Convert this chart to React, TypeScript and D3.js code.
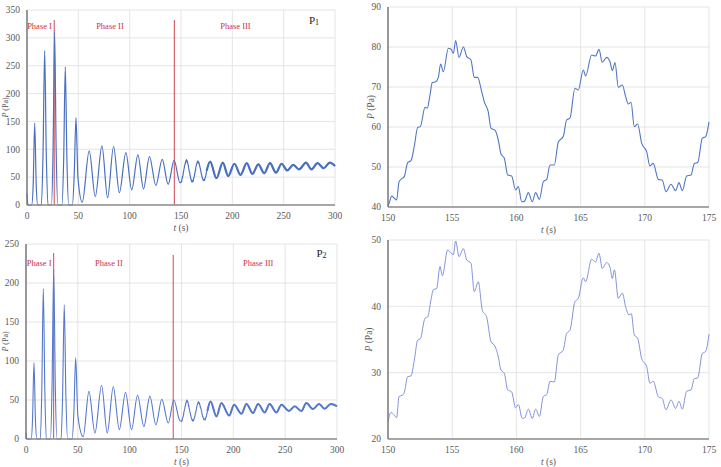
import React from "react";
import * as d3 from "d3";

// ---------- DATA ----------
// P1 full record: peaks / troughs (t in s, p in Pa)
const p1Wave: [number, number][] = [
  [0, 20], [1, 0], [4.5, 0], [6, 35], [7.5, 147], [9, 35], [10.5, 0],
  [14, 0], [15.6, 90], [17.2, 277], [18.8, 90], [20.4, 0],
  [23.8, 0], [25.4, 100], [26.9, 310], [28.4, 100], [30, 0],
  [34, 0], [35.7, 80], [37.3, 248], [38.9, 80], [40.6, 0],
  [44.2, 0], [46, 55], [47.7, 157], [49.6, 50], [53.8, 5],
  [60.6, 97], [66.5, 15], [73, 106], [78.5, 13], [84.3, 105], [90, 22],
  [96.3, 94], [102, 27], [108, 90], [113.5, 29], [119.3, 87], [125.5, 35],
  [131.7, 82], [137.5, 37], [143.3, 80], [149, 40], [155, 81], [160.5, 42],
  [166.5, 79], [172, 45], [178.4, 78], [184.5, 48], [190.7, 76], [196, 52],
  [202, 74], [208, 54], [214, 75], [219.5, 56], [225.4, 73], [231, 57],
  [236.7, 75], [242.5, 58], [248, 74], [253.5, 62], [259.4, 72], [265, 64],
  [271.8, 76], [277, 64], [283, 75], [289, 66], [295, 76], [300, 70],
];

// P1 detail 150–175 s (right-top panel)
const p1Detail: [number, number][] = [
  [150.0, 40.4], [150.08, 40.9], [150.29, 42.75], [150.49, 42.2], [150.67, 41.75],
  [150.86, 46.3], [151.12, 47.2], [151.27, 47.6], [151.53, 51.1], [151.79, 51.6],
  [152.05, 55.25], [152.31, 59.9], [152.52, 60.1], [152.88, 64.9], [153.06, 64.7],
  [153.27, 68], [153.45, 71.1], [153.71, 71.3], [153.92, 72.4], [154.1, 75.75],
  [154.31, 73.8], [154.7, 79.7], [154.9, 79.5], [155.09, 78.4], [155.27, 81.6],
  [155.53, 77.4], [155.87, 80], [156.13, 77.6], [156.46, 76.75], [156.72, 72.4],
  [156.98, 72.4], [157.3, 68.8], [157.5, 66.3], [157.81, 63.8], [158.02, 59.7],
  [158.33, 59.2], [158.59, 56.75], [158.8, 53.25], [159.06, 52.2], [159.32, 48],
  [159.63, 47.75], [159.94, 44.25], [160.15, 45.1], [160.41, 41.3], [160.62, 41.4],
  [160.93, 43.6], [161.24, 41.3], [161.5, 43.6], [161.79, 41.9], [162.1, 46.3],
  [162.36, 46.9], [162.62, 50.5], [162.95, 50.5], [163.27, 56.3], [163.65, 57.6],
  [163.91, 61.75], [164.17, 62.2], [164.56, 69.7], [164.82, 69.25], [165.21, 74.25],
  [165.39, 72.75], [165.86, 78], [166.17, 77.75], [166.43, 79.4], [166.69, 76.2],
  [167.03, 77.4], [167.29, 76.3], [167.47, 74.1], [167.68, 76.1], [167.94, 69.9],
  [168.25, 70.5], [168.51, 67.6], [168.72, 65.75], [168.93, 66.2], [169.18, 60.1],
  [169.44, 60.75], [169.76, 55.9], [170.15, 53.8], [170.4, 50.25], [170.66, 50.9],
  [171.05, 46.9], [171.36, 46.75], [171.65, 43.8], [172.04, 45.7], [172.4, 44.1],
  [172.66, 46.1], [172.92, 44.1], [173.26, 47.75], [173.6, 48], [173.86, 50.9],
  [174.12, 51.1], [174.48, 57.2], [174.74, 57.6], [175.0, 61.3],
];

// P2 full record (left-bottom panel)
const p2Wave: [number, number][] = [
  [0, 8], [1, 0], [5, 0], [6.3, 25], [7.7, 98], [9.1, 25], [10.5, 0],
  [13.8, 0], [15.2, 60], [16.7, 193], [18.2, 60], [19.6, 0],
  [23.6, 0], [25.1, 65], [26.7, 217], [28.3, 65], [29.8, 0],
  [33.8, 0], [35.3, 55], [36.9, 172], [38.5, 55], [40.1, 0],
  [44.5, 0], [46.2, 35], [47.9, 104], [50, 30], [55.2, 3],
  [60.7, 61], [66.5, 7.7], [72.9, 69], [78.4, 7.7], [84.2, 67], [90, 12],
  [96, 60], [101.8, 12], [107.6, 56], [113.7, 16], [119.5, 55], [125.3, 18],
  [131, 51], [137.2, 20.5], [142.6, 50], [148.4, 23.5], [155, 49.5], [160.6, 23.5],
  [166.4, 48], [172.3, 24.5], [178, 48], [183.7, 29], [188.5, 46], [196, 30],
  [200.7, 44], [207.8, 32.4], [212.6, 45], [219, 33.3], [223.9, 45], [230.3, 34],
  [235, 45], [241.5, 34], [246.4, 44], [253.7, 36], [259.2, 42], [265.6, 36],
  [270.4, 46], [276.9, 38.4], [282.7, 45], [288, 38.8], [294, 45], [300, 42],
];

// P2 detail 150–175 s (right-bottom panel)
const p2Detail: [number, number][] = [
  [150.0, 22.6], [150.23, 24], [150.49, 23.6], [150.67, 23.2], [150.86, 26.4],
  [151.12, 26.6], [151.27, 27], [151.53, 29.4], [151.79, 29.5], [152.05, 31.9],
  [152.31, 34.9], [152.52, 35.1], [152.88, 38.2], [153.09, 38.4], [153.35, 41],
  [153.53, 42.5], [153.79, 42.7], [154.05, 46], [154.23, 44.6], [154.65, 48.5],
  [154.91, 48], [155.09, 47.8], [155.27, 49.85], [155.53, 47.5], [155.87, 48.7],
  [156.13, 47], [156.46, 46.5], [156.72, 42.2], [157.03, 43.7], [157.35, 39.4],
  [157.68, 38.4], [158.02, 34.7], [158.33, 34], [158.59, 32.4], [158.8, 30.4],
  [159.06, 29.9], [159.32, 27.4], [159.63, 27.1], [159.94, 24.7], [160.15, 25.2],
  [160.46, 23.1], [160.65, 23.2], [160.93, 24.5], [161.24, 23.1], [161.5, 24.5],
  [161.79, 23.4], [162.1, 26.4], [162.36, 26.7], [162.62, 28.7], [162.95, 28.6],
  [163.27, 32.7], [163.65, 33.4], [163.91, 35.9], [164.17, 36.4], [164.56, 40.7],
  [164.82, 41.2], [165.21, 44.3], [165.39, 43.7], [165.86, 47.1], [166.17, 46.7],
  [166.43, 48], [166.69, 45.7], [167.03, 46.6], [167.29, 45.9], [167.47, 44.2],
  [167.63, 45.5], [167.94, 41.2], [168.25, 42], [168.51, 39.9], [168.77, 38.7],
  [168.95, 38.9], [169.18, 35.7], [169.44, 35.2], [169.76, 32.1], [170.15, 30.9],
  [170.4, 28.4], [170.66, 28.7], [171.05, 26.4], [171.36, 26.1], [171.65, 24.4],
  [172.04, 25.9], [172.4, 24.6], [172.66, 25.7], [172.92, 24.5], [173.26, 27.2],
  [173.6, 27.4], [173.86, 29.1], [174.12, 29.2], [174.48, 32.9], [174.74, 33.2],
  [175.0, 35.8],
];

const fullTicksX = [0, 50, 100, 150, 200, 250, 300];
const p1TicksY = [0, 50, 100, 150, 200, 250, 300, 350];
const p2TicksY = [0, 50, 100, 150, 200, 250];
const zoomTicksX = [150, 155, 160, 165, 170, 175];
const p1ZoomTicksY = [40, 50, 60, 70, 80, 90];
const p2ZoomTicksY = [20, 30, 40, 50];
const phaseNames = ["Phase I", "Phase II", "Phase III"];
const p1PhaseBounds = [26.5, 143.5];
const p2PhaseBounds = [26.7, 142];

// ---------- DRAWING ----------
const FONT = "'Liberation Serif', 'Times New Roman', serif";
const TICK = "#595959";
const GRID = "#dedede";
const RED = "#cc3344";

type Pt = [number, number];

function mergeDetail(wave: Pt[], detail: Pt[]): Pt[] {
  const lo = detail[0][0];
  const hi = detail[detail.length - 1][0];
  return wave
    .filter((d) => d[0] < lo || d[0] > hi)
    .concat(detail)
    .sort((a, b) => a[0] - b[0]);
}

interface PanelProps {
  data: Pt[];
  xDomain: [number, number];
  yDomain: [number, number];
  xTicks: number[];
  yTicks: number[];
  left: number;
  right: number;
  top: number;
  bottom: number;
  color: string;
  strokeW: number;
  thickFrom?: number;
  thickW?: number;
  yLabelX: number;
  yLabelSize: number;
  children?: (x: d3.ScaleLinear<number, number>, y: d3.ScaleLinear<number, number>) => React.ReactNode;
}

function Panel(p: PanelProps) {
  const x = d3.scaleLinear().domain(p.xDomain).range([p.left, p.right]);
  const y = d3.scaleLinear().domain(p.yDomain).range([p.bottom, p.top]);
  const line = d3
    .line<Pt>()
    .x((d) => x(d[0]))
    .y((d) => y(d[1]))
    .curve(d3.curveMonotoneX);
  const thick = p.thickFrom !== undefined ? p.data.filter((d) => d[0] >= (p.thickFrom as number)) : [];
  const midX = (p.left + p.right) / 2;
  const midY = (p.top + p.bottom) / 2;
  return (
    <g>
      {p.yTicks.map((t) => (
        <line key={"hy" + t} x1={p.left} x2={p.right} y1={y(t)} y2={y(t)} stroke={GRID} strokeWidth={0.8} />
      ))}
      {p.xTicks.map((t) => (
        <line key={"vx" + t} x1={x(t)} x2={x(t)} y1={p.top} y2={p.bottom} stroke={GRID} strokeWidth={0.8} />
      ))}
      {p.children ? p.children(x, y) : null}
      <path d={line(p.data) || ""} fill="none" stroke={p.color} strokeWidth={p.strokeW} strokeLinejoin="round" />
      {thick.length > 1 ? (
        <path d={line(thick) || ""} fill="none" stroke={p.color} strokeWidth={p.thickW} strokeLinejoin="round" />
      ) : null}
      <line x1={p.left} x2={p.right} y1={p.bottom} y2={p.bottom} stroke="#8c8c8c" strokeWidth={1.5} />
      <line x1={p.left} x2={p.left} y1={p.top} y2={p.bottom} stroke="#7a7a7a" strokeWidth={1.5} />
      {p.yTicks.map((t) => (
        <text key={"ly" + t} x={p.left - 7} y={y(t)} dy="0.35em" textAnchor="end" fontSize={9.5} fontFamily={FONT} fill={TICK}>
          {t}
        </text>
      ))}
      {p.xTicks.map((t) => (
        <text key={"lx" + t} x={x(t)} y={p.bottom + 11} dy="0.35em" textAnchor="middle" fontSize={9.5} fontFamily={FONT} fill={TICK}>
          {t}
        </text>
      ))}
      <text x={midX} y={p.bottom + 23} dy="0.35em" textAnchor="middle" fontSize={9.5} fontFamily={FONT} fill={TICK}>
        <tspan fontStyle="italic">t</tspan> (s)
      </text>
      <text
        transform={`translate(${p.yLabelX},${midY}) rotate(-90)`}
        textAnchor="middle"
        fontSize={p.yLabelSize}
        fontFamily={FONT}
        fill={TICK}
      >
        <tspan fontStyle="italic">P</tspan> (Pa)
      </text>
    </g>
  );
}

function PhaseMarks(props: {
  x: d3.ScaleLinear<number, number>;
  y: d3.ScaleLinear<number, number>;
  bounds: number[];
  lineTops: number[];
  labelT: number[];
  labelY: number;
  yMin: number;
  tag: string;
  tagT: number;
  tagY: number;
}) {
  const { x, y } = props;
  return (
    <g>
      {props.bounds.map((b, i) => (
        <line key={"b" + i} x1={x(b)} x2={x(b)} y1={props.lineTops[i]} y2={y(props.yMin)} stroke={RED} strokeWidth={1} opacity={0.9} />
      ))}
      {phaseNames.map((n, i) => (
        <text key={n} x={x(props.labelT[i])} y={props.labelY} dy="0.35em" textAnchor="middle" fontSize={8.5} fontFamily={FONT} fill={RED}>
          {n}
        </text>
      ))}
      <text x={x(props.tagT)} y={props.tagY} dy="0.35em" textAnchor="middle" fontSize={11} fontFamily={FONT} fill="#222">
        P<tspan fontSize={8} dy="1">{props.tag}</tspan>
      </text>
    </g>
  );
}

export default function App() {
  const p1All = mergeDetail(p1Wave, p1Detail);
  const p2All = mergeDetail(p2Wave, p2Detail);
  return (
    <svg width={721} height={467} style={{ position: "absolute", left: 0, top: 0, background: "#fff" }}>
      <rect width={721} height={467} fill="#fff" />
      {/* top-left */}
      <Panel
        data={p1All}
        xDomain={[0, 300]}
        yDomain={[0, 350]}
        xTicks={fullTicksX}
        yTicks={p1TicksY}
        left={27}
        right={335}
        top={10}
        bottom={205}
        color="#4a70c0"
        strokeW={1.2}
        thickFrom={175}
        thickW={2.2}
        yLabelX={7.5}
        yLabelSize={8}
      >
        {(x, y) => (
          <PhaseMarks
            x={x}
            y={y}
            bounds={p1PhaseBounds}
            lineTops={[20, 20]}
            labelT={[12.2, 80.8, 203]}
            labelY={26.5}
            yMin={0}
            tag="1"
            tagT={279.5}
            tagY={20}
          />
        )}
      </Panel>
      {/* top-right */}
      <Panel
        data={p1Detail}
        xDomain={[150, 175]}
        yDomain={[40, 90]}
        xTicks={zoomTicksX}
        yTicks={p1ZoomTicksY}
        left={388}
        right={709}
        top={7}
        bottom={207}
        color="#5077c4"
        strokeW={1.1}
        yLabelX={374}
        yLabelSize={9.5}
      />
      {/* bottom-left */}
      <Panel
        data={p2All}
        xDomain={[0, 300]}
        yDomain={[0, 250]}
        xTicks={fullTicksX}
        yTicks={p2TicksY}
        left={26}
        right={337}
        top={244}
        bottom={439}
        color="#5577cc"
        strokeW={1.1}
        thickFrom={175}
        thickW={2}
        yLabelX={7.5}
        yLabelSize={8}
      >
        {(x, y) => (
          <PhaseMarks
            x={x}
            y={y}
            bounds={p2PhaseBounds}
            lineTops={[253, 255]}
            labelT={[12.7, 80, 224]}
            labelY={263}
            yMin={0}
            tag="2"
            tagT={285}
            tagY={253}
          />
        )}
      </Panel>
      {/* bottom-right */}
      <Panel
        data={p2Detail}
        xDomain={[150, 175]}
        yDomain={[20, 50]}
        xTicks={zoomTicksX}
        yTicks={p2ZoomTicksY}
        left={388}
        right={709}
        top={240}
        bottom={439}
        color="#8493dc"
        strokeW={1}
        yLabelX={372}
        yLabelSize={9.5}
      />
    </svg>
  );
}
